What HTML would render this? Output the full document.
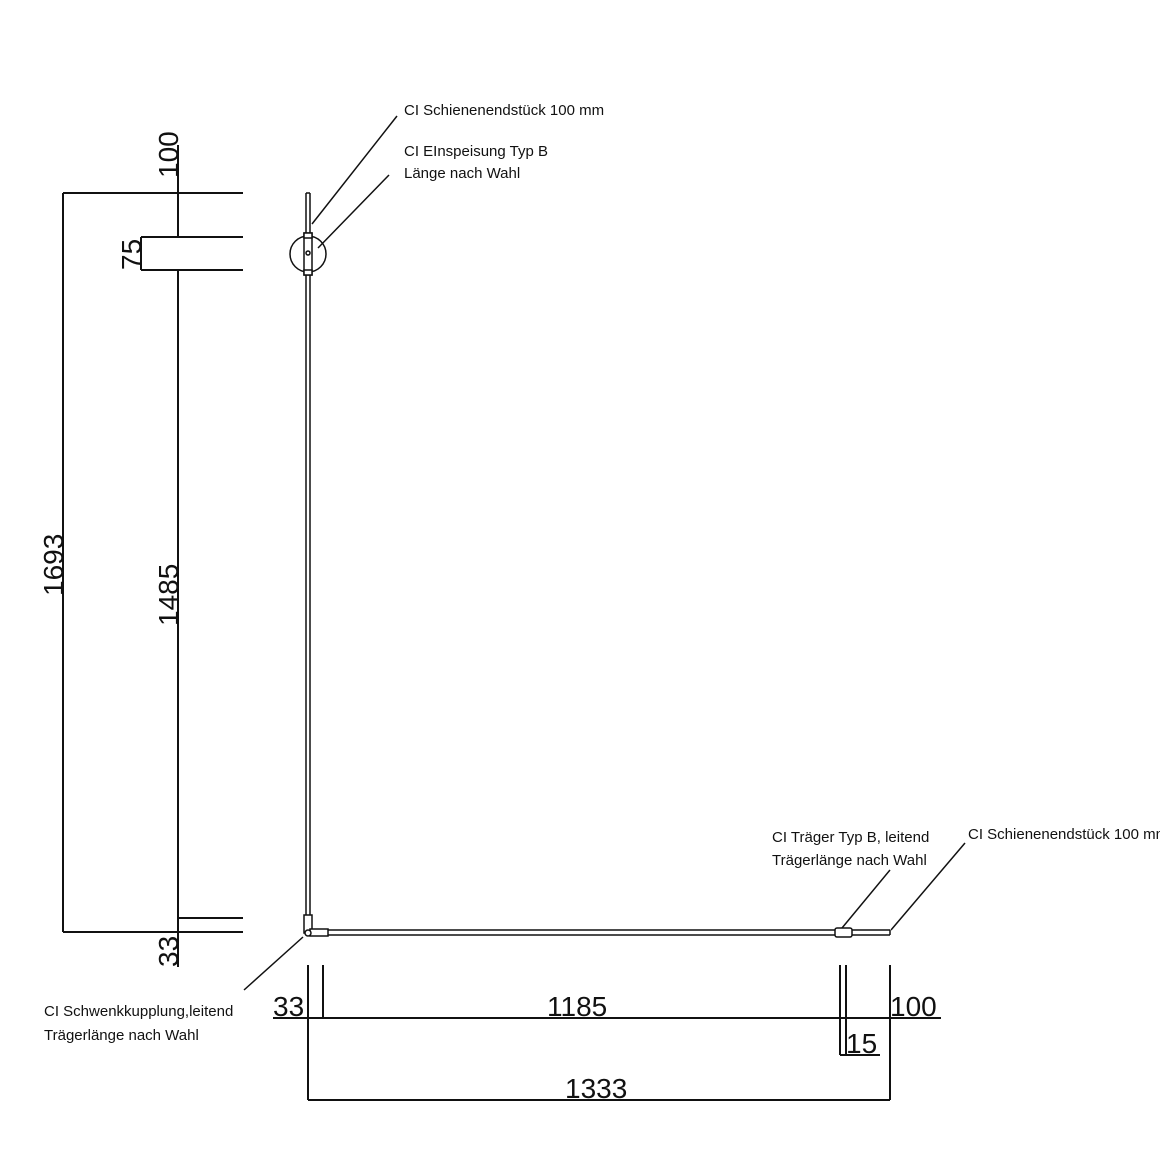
<!DOCTYPE html>
<html><head><meta charset="utf-8"><style>
html,body{margin:0;padding:0;background:#fff;}
svg{display:block;}
text{font-family:"Liberation Sans",sans-serif;fill:#111;}
</style></head><body>
<svg width="1160" height="1160" viewBox="0 0 1160 1160" xmlns="http://www.w3.org/2000/svg">
<g stroke="#111" stroke-width="2" fill="none">
<!-- left dims -->
<line x1="63" y1="193" x2="63" y2="932"/>
<line x1="63" y1="193" x2="243" y2="193"/>
<line x1="63" y1="932" x2="243" y2="932"/>
<line x1="178" y1="145" x2="178" y2="237"/>
<line x1="178" y1="270" x2="178" y2="967"/>
<line x1="141" y1="237" x2="243" y2="237"/>
<line x1="141" y1="270" x2="243" y2="270"/>
<line x1="141" y1="237" x2="141" y2="270"/>
<line x1="178" y1="918" x2="243" y2="918"/>
<!-- bottom dims -->
<line x1="308" y1="965" x2="308" y2="1100"/>
<line x1="323" y1="965" x2="323" y2="1018"/>
<line x1="840" y1="965" x2="840" y2="1055"/>
<line x1="846" y1="965" x2="846" y2="1055"/>
<line x1="890" y1="965" x2="890" y2="1100"/>
<line x1="273" y1="1018" x2="941" y2="1018"/>
<line x1="840" y1="1055" x2="880" y2="1055"/>
<line x1="308" y1="1100" x2="890" y2="1100"/>
</g>
<g stroke="#111" stroke-width="1.5" fill="none">
<!-- vertical rail -->
<line x1="306" y1="193" x2="306" y2="930"/>
<line x1="310" y1="193" x2="310" y2="930"/>
<line x1="306" y1="193" x2="310" y2="193"/>
<!-- horizontal rail -->
<line x1="308" y1="930" x2="890" y2="930"/>
<line x1="308" y1="935" x2="890" y2="935"/>
<line x1="890" y1="930" x2="890" y2="935"/>
<!-- circle feed -->
<circle cx="308" cy="254" r="18"/>
<rect x="304" y="233" width="8" height="42" fill="#fff"/>
<rect x="304" y="233" width="8" height="5" fill="#fff"/>
<rect x="304" y="270" width="8" height="5" fill="#fff"/>
<circle cx="308" cy="253" r="2"/>
<!-- corner -->
<rect x="304" y="915" width="8" height="18" fill="#fff"/>
<rect x="310" y="929" width="18" height="7" fill="#fff"/>
<circle cx="308" cy="933" r="3" fill="#fff"/>
<!-- traeger -->
<rect x="835" y="928" width="17" height="9" rx="2" fill="#fff"/>
<!-- leaders -->
<line x1="312" y1="224" x2="397" y2="116"/>
<line x1="318" y1="248" x2="389" y2="175"/>
<line x1="303" y1="937" x2="244" y2="990"/>
<line x1="842" y1="928" x2="890" y2="870"/>
<line x1="891" y1="930" x2="965" y2="843"/>
</g>
<g font-size="15">
<text x="404" y="115">CI Schienenendstück 100 mm</text>
<text x="404" y="156">CI EInspeisung Typ B</text>
<text x="404" y="178">Länge nach Wahl</text>
<text x="772" y="842">CI Träger Typ B, leitend</text>
<text x="772" y="865">Trägerlänge nach Wahl</text>
<text x="968" y="839">CI Schienenendstück 100 mm</text>
<text x="44" y="1016">CI Schwenkkupplung,leitend</text>
<text x="44" y="1040">Trägerlänge nach Wahl</text>
</g>
<g font-size="28">
<text transform="translate(178,178) rotate(-90)">100</text>
<text transform="translate(141,270) rotate(-90)">75</text>
<text transform="translate(63,596) rotate(-90)">1693</text>
<text transform="translate(178,626) rotate(-90)">1485</text>
<text transform="translate(178,967) rotate(-90)">33</text>
<text x="273" y="1016">33</text>
<text x="547" y="1016">1185</text>
<text x="890" y="1016">100</text>
<text x="846" y="1053">15</text>
<text x="565" y="1098">1333</text>
</g>
</svg>
</body></html>
